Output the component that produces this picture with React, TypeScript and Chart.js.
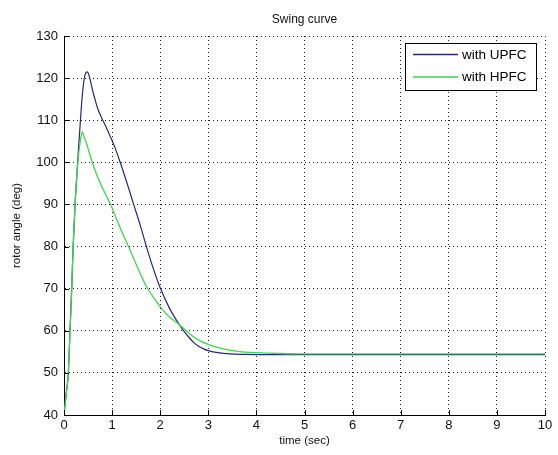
import React, { useEffect, useRef } from "react";
import { Chart, registerables } from "chart.js";

Chart.register(...registerables);

const chartTitle = "Swing curve";
const xAxisTitle = "time (sec)";
const yAxisTitle = "rotor angle (deg)";
const xTickValues = [0, 1, 2, 3, 4, 5, 6, 7, 8, 9, 10];
const yTickValues = [40, 50, 60, 70, 80, 90, 100, 110, 120, 130];
const seriesLabels = ["with UPFC", "with HPFC"];
const seriesColors = ["#28287e", "#3fd64e"];

const upfcTime = [0, 0.045, 0.09, 0.125, 0.16, 0.19, 0.23, 0.27, 0.3, 0.33, 0.36, 0.39, 0.42, 0.45, 0.48, 0.51, 0.55, 0.61, 0.66, 0.71, 0.78, 0.87, 0.96, 1.06, 1.15, 1.29, 1.44, 1.6, 1.7, 1.85, 2.0, 2.2, 2.4, 2.5, 2.6, 2.7, 2.8, 2.9, 3.0, 3.2, 3.45, 3.8, 4.2, 5, 6, 7, 8, 9, 10];
const upfcAngle = [40, 45, 50, 60, 70, 80, 90, 97.5, 103, 108, 113, 117, 119.8, 121.2, 121.5, 121, 119.3, 116.4, 114.3, 112.5, 110.6, 108.5, 106.2, 103.5, 100.6, 95.8, 90.3, 84.5, 80.5, 75, 70.2, 65.2, 61.4, 59.8, 58.4, 57.2, 56.3, 55.7, 55.3, 54.8, 54.5, 54.4, 54.35, 54.35, 54.35, 54.35, 54.35, 54.35, 54.35];

const hpfcTime = [0, 0.045, 0.09, 0.125, 0.16, 0.19, 0.23, 0.27, 0.3, 0.33, 0.36, 0.38, 0.41, 0.47, 0.52, 0.57, 0.63, 0.7, 0.8, 0.9, 0.96, 1.1, 1.2, 1.34, 1.5, 1.6, 1.72, 1.9, 2.06, 2.2, 2.38, 2.5, 2.69, 2.85, 3.04, 3.25, 3.45, 3.7, 4.0, 4.5, 5, 6, 7, 8, 9, 10];
const hpfcAngle = [40, 45, 50, 60, 70, 80, 90, 97.5, 101.5, 104.3, 106.4, 107.3, 106.4, 104.4, 102.5, 100.6, 98.6, 96.5, 93.9, 91.6, 90.2, 86.3, 83.6, 80, 75.8, 73.2, 70.4, 67.3, 64.9, 63.2, 61.6, 60.4, 58.6, 57.5, 56.6, 55.9, 55.4, 55, 54.8, 54.6, 54.5, 54.5, 54.5, 54.5, 54.5, 54.5];

const FONT = "'Liberation Sans', Arial, Helvetica, sans-serif";

const titlePlugin = {
  id: "axesTitle",
  afterDraw(chart: any) {
    const { ctx, chartArea } = chart;
    ctx.save();
    ctx.fillStyle = "#111";
    ctx.font = `12px ${FONT}`;
    ctx.textAlign = "center";
    ctx.textBaseline = "middle";
    ctx.fillText(chartTitle, (chartArea.left + chartArea.right) / 2, chartArea.top - 16);
    ctx.restore();
  },
};

const innerTicksPlugin = {
  id: "innerTicks",
  afterDatasetsDraw(chart: any) {
    const { ctx, chartArea } = chart;
    const xs = chart.scales.x;
    const ys = chart.scales.y;
    ctx.save();
    ctx.strokeStyle = "#000";
    ctx.lineWidth = 1;
    ctx.setLineDash([]);
    ctx.beginPath();
    xTickValues.forEach((v) => {
      const px = Math.round(xs.getPixelForValue(v)) + 0.5;
      ctx.moveTo(px, chartArea.bottom);
      ctx.lineTo(px, chartArea.bottom - 5);
    });
    yTickValues.forEach((v) => {
      const py = Math.round(ys.getPixelForValue(v)) + 0.5;
      ctx.moveTo(chartArea.left, py);
      ctx.lineTo(chartArea.left + 5, py);
    });
    ctx.stroke();
    ctx.restore();
  },
};

const legendPlugin = {
  id: "matlabLegend",
  afterDraw(chart: any) {
    const { ctx, chartArea } = chart;
    const boxW = 132;
    const boxH = 48;
    const right = chartArea.right - 8;
    const left = right - boxW;
    const top = chartArea.top + 7;
    ctx.save();
    ctx.fillStyle = "#fff";
    ctx.fillRect(left, top, boxW, boxH);
    ctx.strokeStyle = "#000";
    ctx.lineWidth = 1;
    ctx.setLineDash([]);
    ctx.strokeRect(left + 0.5, top + 0.5, boxW - 1, boxH - 1);
    chart.data.datasets.forEach((ds: any, i: number) => {
      const cy = top + 11.5 + i * 22.5;
      ctx.strokeStyle = ds.borderColor;
      ctx.lineWidth = 1.5;
      ctx.beginPath();
      ctx.moveTo(left + 8, cy);
      ctx.lineTo(left + 53, cy);
      ctx.stroke();
      ctx.fillStyle = "#000";
      ctx.font = `13.5px ${FONT}`;
      ctx.textBaseline = "middle";
      ctx.textAlign = "left";
      ctx.fillText(ds.label, left + 57, cy + 0.5);
    });
    ctx.restore();
  },
};

export default function App() {
  const canvasRef = useRef<HTMLCanvasElement | null>(null);

  useEffect(() => {
    const canvas = canvasRef.current;
    if (!canvas) return;
    const chart = new Chart(canvas, {
      type: "line",
      data: {
        datasets: [
          {
            label: seriesLabels[0],
            data: upfcTime.map((t, i) => ({ x: t, y: upfcAngle[i] })),
            borderColor: seriesColors[0],
            backgroundColor: seriesColors[0],
            borderWidth: 1.2,
            pointRadius: 0,
            fill: false,
            cubicInterpolationMode: "monotone",
            order: 1,
          },
          {
            label: seriesLabels[1],
            data: hpfcTime.map((t, i) => ({ x: t, y: hpfcAngle[i] })),
            borderColor: seriesColors[1],
            backgroundColor: seriesColors[1],
            borderWidth: 1.3,
            pointRadius: 0,
            fill: false,
            cubicInterpolationMode: "monotone",
            order: 0,
          },
        ],
      },
      options: {
        animation: false,
        responsive: false,
        maintainAspectRatio: false,
        devicePixelRatio: 1,
        layout: { padding: { left: 0, right: 13, top: 36, bottom: 0 } },
        plugins: {
          legend: { display: false },
          tooltip: { enabled: false },
          title: { display: false },
        },
        scales: {
          x: {
            type: "linear",
            min: xTickValues[0],
            max: xTickValues[xTickValues.length - 1],
            afterBuildTicks: (scale: any) => {
              scale.ticks = xTickValues.map((v) => ({ value: v }));
            },
            afterFit: (scale: any) => {
              scale.height = 40;
            },
            ticks: {
              color: "#111",
              font: { family: FONT, size: 13 },
              padding: 3,
              maxRotation: 0,
              autoSkip: false,
            },
            grid: {
              color: "#222",
              lineWidth: 1,
              drawTicks: false,
            },
            border: { display: true, color: "#000", width: 1, dash: [1, 3] },
            title: {
              display: true,
              text: xAxisTitle,
              color: "#111",
              font: { family: FONT, size: 11.5 },
              padding: { top: 0, bottom: 7 },
            },
          },
          y: {
            type: "linear",
            min: yTickValues[0],
            max: yTickValues[yTickValues.length - 1],
            afterBuildTicks: (scale: any) => {
              scale.ticks = yTickValues.map((v) => ({ value: v }));
            },
            afterFit: (scale: any) => {
              scale.width = 64;
            },
            ticks: {
              color: "#111",
              font: { family: FONT, size: 13 },
              padding: 6,
              autoSkip: false,
            },
            grid: {
              color: "#222",
              lineWidth: 1,
              drawTicks: false,
            },
            border: { display: true, color: "#000", width: 1, dash: [1, 3] },
            title: {
              display: true,
              text: yAxisTitle,
              color: "#111",
              font: { family: FONT, size: 11.5 },
              padding: { top: 10, bottom: 0 },
            },
          },
        },
      },
      plugins: [innerTicksPlugin, legendPlugin, titlePlugin],
    } as any);
    return () => chart.destroy();
  }, []);

  return (
    <div
      style={{
        position: "fixed",
        left: 0,
        top: 0,
        width: 558,
        height: 455,
        background: "#fff",
      }}
    >
      <canvas ref={canvasRef} width={558} height={455} style={{ width: 558, height: 455, display: "block" }} />
    </div>
  );
}
